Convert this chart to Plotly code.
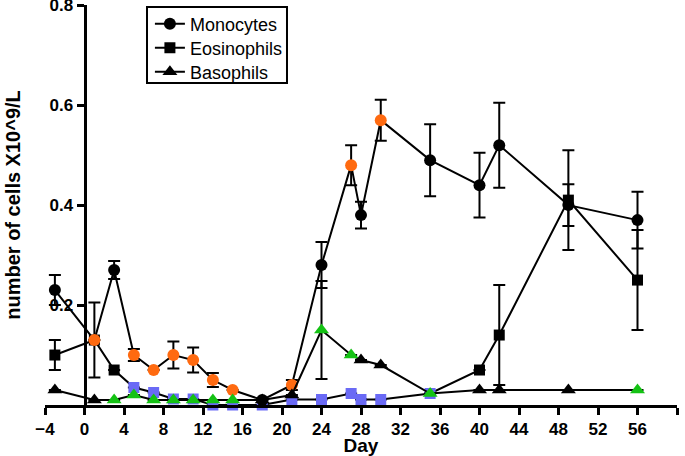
import plotly.graph_objects as go

days = [-3, 1, 3, 5, 7, 9, 11, 13, 15, 18, 21, 24, 27, 28, 30, 35, 40, 42, 49, 56]

monocytes = [0.23, 0.13, 0.27, 0.10, 0.07, 0.10, 0.09, 0.05, 0.03, 0.01, 0.04,
             0.28, 0.48, 0.38, 0.57, 0.49, 0.44, 0.52, 0.40, 0.37]
monocytes_err = [0.03, None, 0.018, 0.012, None, 0.027, 0.025, 0.014, None, None, 0.01,
                 0.046, 0.04, 0.027, 0.041, 0.072, 0.065, 0.085, 0.042, 0.057]
monocytes_hi = [0, 1, 0, 1, 1, 1, 1, 1, 1, 0, 1, 0, 1, 0, 1, 0, 0, 0, 0, 0]

eosinophils = [0.10, 0.13, 0.07, 0.035, 0.025, 0.012, 0.012, 0.0, 0.0, 0.0, 0.011,
               0.011, 0.023, 0.011, 0.011, 0.023, 0.07, 0.14, 0.41, 0.25]
eosinophils_err = [0.03, 0.075, None, None, None, None, None, None, None, None, None,
                   None, None, None, None, None, None, 0.10, 0.10, 0.10]
eosinophils_hi = [0, 0, 0, 1, 1, 1, 1, 1, 1, 1, 1, 1, 1, 1, 1, 1, 0, 0, 0, 0]

basophils = [0.03, 0.01, 0.01, 0.02, 0.01, 0.01, 0.01, 0.01, 0.01, 0.01, 0.02,
             0.15, 0.10, 0.09, 0.08, 0.023, 0.03, 0.03, 0.03, 0.03]
basophils_err = [None, None, None, None, None, None, None, None, None, None, None,
                 0.098, None, None, None, None, None, None, None, None]
basophils_hi = [0, 0, 1, 1, 1, 1, 1, 1, 1, 0, 0, 1, 1, 0, 0, 1, 0, 0, 0, 1]

x_ticks = list(range(-4, 61, 4))
y_ticks = [0.2, 0.4, 0.6, 0.8]

ORANGE = "#FF6A10"
BLUE = "#6A6AF5"
GREEN = "#14C214"

def colors(flags, hi):
    return [hi if f else "black" for f in flags]

def trace(name, y, err, flags, hi, symbol, size, legend):
    return go.Scatter(
        x=days, y=y, name=name, mode="lines+markers",
        line=dict(color="black", width=2),
        marker=dict(symbol=symbol, size=size, color=colors(flags, hi),
                    line=dict(width=0)),
        error_y=dict(type="data", array=err, symmetric=True, color="black",
                     thickness=2, width=6),
        cliponaxis=False, legend=legend,
    )

fig = go.Figure()
fig.add_trace(trace("Eosinophils", eosinophils, eosinophils_err, eosinophils_hi, BLUE, "square", 11, "legend2"))
fig.add_trace(trace("Monocytes", monocytes, monocytes_err, monocytes_hi, ORANGE, "circle", 12, "legend"))
fig.add_trace(trace("Basophils", basophils, basophils_err, basophils_hi, GREEN, "triangle-up", 13, "legend3"))

bold = dict(family="Liberation Sans", size=17, color="black", weight="bold")
leg_font = dict(family="Liberation Sans", size=18, color="black")

def leg(y):
    return dict(x=0.166, y=y, xanchor="left", yanchor="middle",
                borderwidth=0, bgcolor="rgba(0,0,0,0)", font=leg_font)

fig.update_layout(
    width=685, height=456,
    margin=dict(l=45, r=8, t=5, b=51),
    plot_bgcolor="white", paper_bgcolor="white",
    showlegend=True,
    legend=leg(0.9525),
    legend2=leg(0.8925),
    legend3=leg(0.8325),
    shapes=[dict(type="rect", xref="paper", yref="paper",
                 x0=0.1614, x1=0.3829, y0=0.805, y1=0.995,
                 line=dict(color="black", width=2), fillcolor="white",
                 layer="below")],
    xaxis=dict(range=[-4, 60], domain=[0, 1], tickvals=x_ticks,
               automargin=False,
               showline=True, linecolor="black", linewidth=3,
               ticks="outside", ticklen=7, tickwidth=3, tickcolor="black",
               showgrid=False, zeroline=False, tickfont=bold,
               title=dict(text="Day", font=dict(family="Liberation Sans", size=19,
                                                 color="black", weight="bold"),
                          standoff=1)),
    yaxis=dict(range=[0, 0.8005], tickvals=y_ticks, tickformat=".1f",
               anchor="free", position=4 / 64, ticklabeloverflow="allow",
               automargin=False,
               showline=True, linecolor="black", linewidth=3,
               ticks="outside", ticklen=7, tickwidth=3, tickcolor="black",
               showgrid=False, zeroline=False, tickfont=bold,
               title=dict(text="number of cells X10^9/L",
                          font=dict(family="Liberation Sans", size=20,
                                    color="black", weight="bold"),
                          standoff=22)),
)

fig.write_html("out.html", post_script="document.body.style.margin='0';",
               config={"displayModeBar": False})
